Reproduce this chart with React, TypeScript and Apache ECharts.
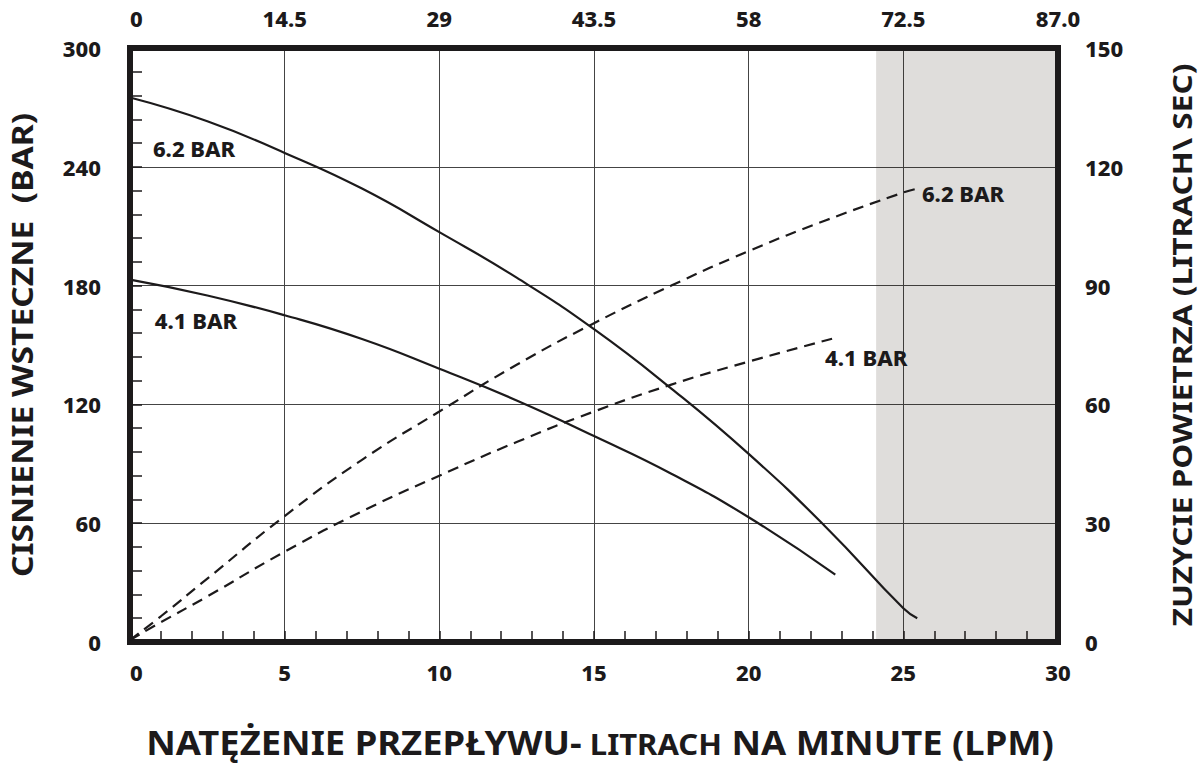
import React, { useEffect, useRef } from "react";
import * as echarts from "echarts";

// ---- data ----
const flow62Solid = [0, 2.5, 5, 7.5, 10, 12.5, 15, 17.5, 20, 22.5, 25, 25.45];
const pressure62 = [275, 263, 247, 229, 207, 184, 158, 128, 95, 58, 17, 12];

const flow41Solid = [0, 2.5, 5, 7.5, 10, 12.5, 15, 17.5, 20, 22.8];
const pressure41 = [183, 175, 165, 153, 138, 122, 104, 85, 63, 34];

const flow62Air = [0, 1, 2.5, 5, 7.5, 10, 12.5, 15, 17.5, 20, 22.5, 25, 25.45];
const air62 = [0.5, 6.5, 16, 31.8, 46, 58.2, 70, 80.5, 90, 98.7, 106.5, 113.5, 114.5];

const flow41Air = [0, 1, 2.5, 5, 7.5, 10, 12.5, 15, 17.5, 20, 22.8];
const air41 = [0.5, 5, 11.5, 22.8, 33, 42, 50.5, 58.2, 65, 70.8, 76.8];

const curveLabelX = [0.74, 0.8, 25.6, 22.47];
const curveLabelY = [249.5, 162.5, 227, 144];
const curveLabelText = ["6.2 BAR", "4.1 BAR", "6.2 BAR", "4.1 BAR"];

const shadedFrom = 24.12;
const shadedTo = 30;

const topTickLabels = ["0", "14.5", "29", "43.5", "58", "72.5", "87.0"];

const leftTitle = "CISNIENIE WSTECZNE  (BAR)";
const rightTitle = "ZUZYCIE POWIETRZA (LITRACH\\ SEC)";
const bottomTitleA = "NATĘŻENIE PRZEPŁYWU-";
const bottomTitleB = " LITRACH";
const bottomTitleC = " NA MINUTE (LPM)";

const zip = (xs: number[], ys: number[]) => xs.map((x, i) => [x, ys[i]]);

const INK = "#1c1a1b";
const FONT = '"Noto Sans", "Open Sans", sans-serif';

export default function App() {
  const ref = useRef<HTMLDivElement>(null);

  useEffect(() => {
    if (!ref.current) return;
    const chart = echarts.init(ref.current, null, { renderer: "svg" });

    const labelStyle = {
      fontFamily: FONT,
      fontWeight: 800 as any,
      fontSize: 22,
      color: INK,
    };

    chart.setOption({
      animation: false,
      backgroundColor: "#ffffff",
      grid: {
        left: 130,
        right: 142,
        top: 48,
        bottom: 122,
        show: true,
        borderWidth: 6,
        borderColor: INK,
        backgroundColor: "transparent",
        z: 3,
      },
      xAxis: [
        {
          type: "value",
          position: "bottom",
          min: 0,
          max: 30,
          interval: 5,
          axisLine: { show: false },
          axisTick: { show: true, inside: true, length: 11, lineStyle: { color: INK, width: 1.5 } },
          minorTick: { show: true, splitNumber: 5, length: 11, lineStyle: { color: INK, width: 1.5 } },
          splitLine: { show: true, lineStyle: { color: "#444", width: 1 } },
          axisLabel: { ...labelStyle, margin: 19, alignMinLabel: "left" },
        },
        {
          type: "value",
          position: "top",
          min: 0,
          max: 87,
          interval: 14.5,
          axisLine: { show: false },
          axisTick: { show: false },
          splitLine: { show: false },
          axisLabel: {
            ...labelStyle,
            margin: 19,
            alignMinLabel: "left",
            formatter: (v: number) => topTickLabels[Math.round(v / 14.5)] ?? String(v),
          },
        },
      ],
      yAxis: [
        {
          type: "value",
          position: "left",
          min: 0,
          max: 300,
          interval: 60,
          axisLine: { show: false },
          axisTick: { show: true, inside: true, length: 12, lineStyle: { color: INK, width: 1.5 } },
          minorTick: { show: true, splitNumber: 5, length: 12, lineStyle: { color: INK, width: 1.5 } },
          splitLine: { show: true, lineStyle: { color: "#444", width: 1 } },
          axisLabel: { ...labelStyle, margin: 29, padding: [8, 0, 0, 0] },
        },
        {
          type: "value",
          position: "right",
          min: 0,
          max: 150,
          interval: 30,
          axisLine: { show: false },
          axisTick: { show: false },
          splitLine: { show: false },
          axisLabel: { ...labelStyle, margin: 27, padding: [8, 0, 0, 0] },
        },
      ],
      series: [
        {
          type: "line",
          name: "6.2 BAR pressure",
          xAxisIndex: 0,
          yAxisIndex: 0,
          data: zip(flow62Solid, pressure62),
          smooth: true,
          symbol: "none",
          lineStyle: { color: INK, width: 2.2 },
          markArea: {
            silent: true,
            itemStyle: { color: "rgba(40,25,15,0.15)" },
            data: [[{ xAxis: shadedFrom }, { xAxis: shadedTo }]],
          },
        },
        {
          type: "line",
          name: "4.1 BAR pressure",
          xAxisIndex: 0,
          yAxisIndex: 0,
          data: zip(flow41Solid, pressure41),
          smooth: true,
          symbol: "none",
          lineStyle: { color: INK, width: 2.2 },
        },
        {
          type: "line",
          name: "6.2 BAR air",
          xAxisIndex: 0,
          yAxisIndex: 1,
          data: zip(flow62Air, air62),
          smooth: true,
          symbol: "none",
          lineStyle: { color: INK, width: 2.2, type: [11, 7] },
        },
        {
          type: "line",
          name: "4.1 BAR air",
          xAxisIndex: 0,
          yAxisIndex: 1,
          data: zip(flow41Air, air41),
          smooth: true,
          symbol: "none",
          lineStyle: { color: INK, width: 2.2, type: [11, 7] },
        },
        {
          type: "scatter",
          xAxisIndex: 0,
          yAxisIndex: 0,
          symbolSize: 0,
          silent: true,
          itemStyle: { opacity: 1, color: INK },
          data: curveLabelX.map((x, i) => ({ value: [x, curveLabelY[i]], name: curveLabelText[i] })),
          label: {
            show: true,
            position: "right",
            distance: 0,
            opacity: 1,
            formatter: (p: any) => p.name,
            fontFamily: FONT,
            fontWeight: 800,
            fontSize: 22,
            color: INK,
          },
        },
      ],
      graphic: [
        {
          type: "text",
          x: 22,
          y: 345,
          rotation: Math.PI / 2,
          scaleX: 1.2,
          style: {
            text: leftTitle,
            font: `bold 28px ${FONT}`,
            fill: INK,
            align: "center",
            verticalAlign: "middle",
          },
        },
        {
          type: "text",
          x: 1182,
          y: 345,
          rotation: Math.PI / 2,
          scaleX: 1.17,
          style: {
            text: rightTitle,
            font: `bold 27px ${FONT}`,
            fill: INK,
            align: "center",
            verticalAlign: "middle",
          },
        },
        {
          type: "text",
          x: 600,
          y: 741,
          scaleX: 1.07,
          style: {
            text: `{a|${bottomTitleA}}{b|${bottomTitleB}}{a|${bottomTitleC}}`,
            align: "center",
            verticalAlign: "middle",
            fill: INK,
            rich: {
              a: { fontFamily: FONT, fontWeight: "bold", fontSize: 34, lineHeight: 40, fill: INK },
              b: {
                fontFamily: FONT,
                fontWeight: "bold",
                fontSize: 29,
                lineHeight: 40,
                verticalAlign: "bottom",
                padding: [0, 0, 3, 0],
                fill: INK,
              },
            },
          },
        },
      ],
    });

    return () => chart.dispose();
  }, []);

  return (
    <div
      ref={ref}
      style={{ position: "absolute", left: 0, top: 0, width: 1200, height: 764 }}
    />
  );
}
